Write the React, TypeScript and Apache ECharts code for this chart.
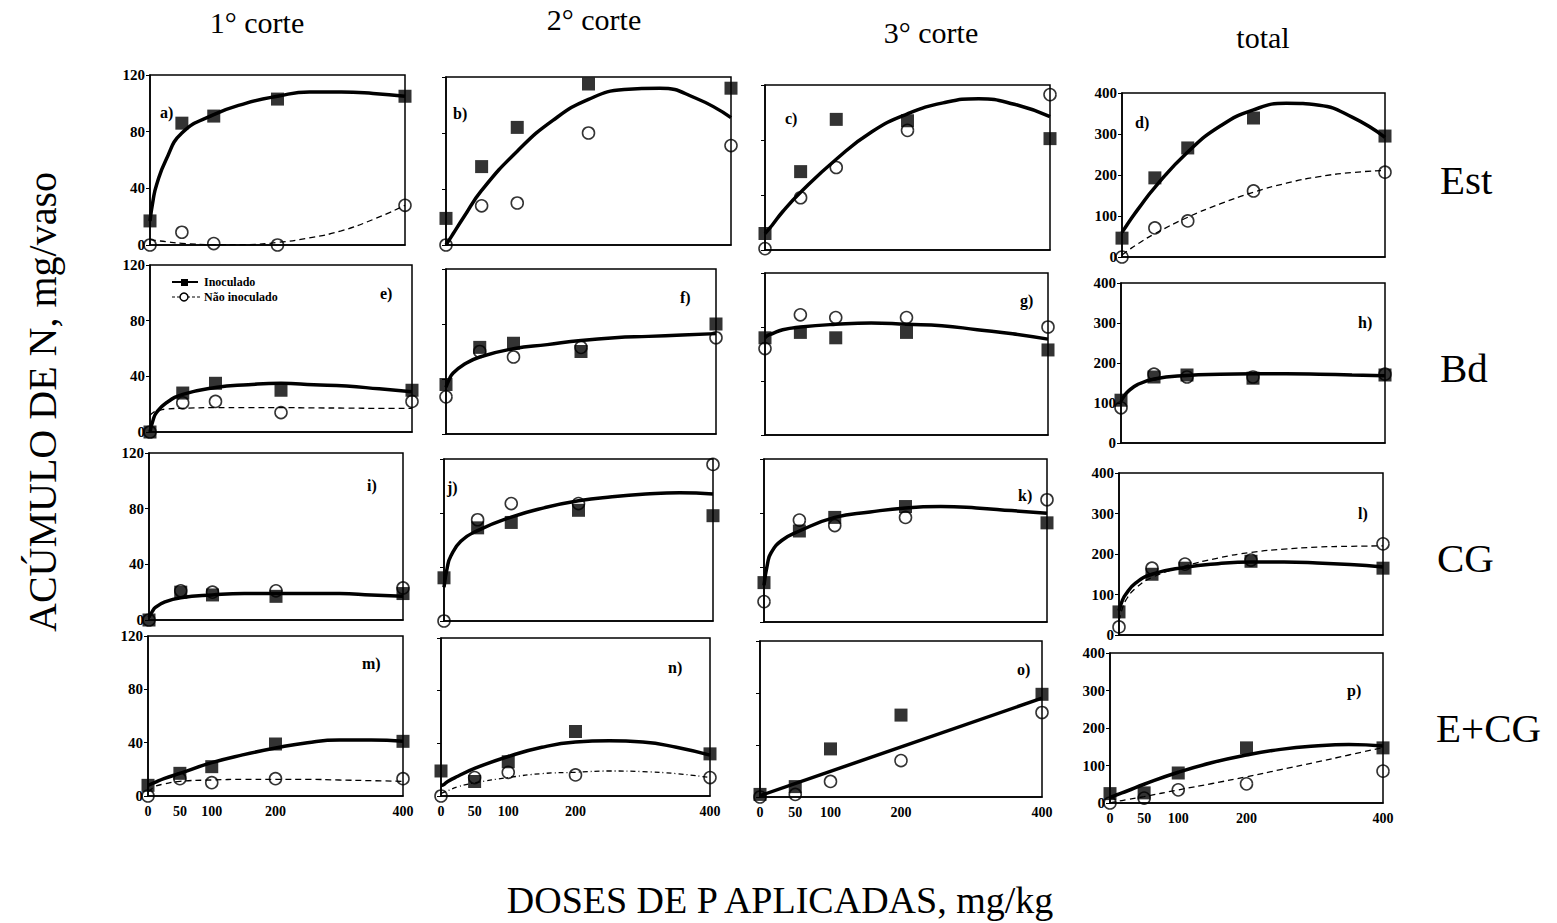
import React, { useEffect, useRef } from "react";
import * as echarts from "echarts";

// ---------- data ----------
const doses = [0, 50, 100, 200, 400];
const curveDoses = [0, 5, 10, 25, 50, 100, 150, 200, 250, 300, 350, 400];
const xTickLabels = ["0", "50", "100", "200", "400"];
const colHeaders = ["1° corte", "2° corte", "3° corte", "total"];
const rowLabels = ["Est", "Bd", "CG", "E+CG"];
const panelLetters = ["a)", "b)", "c)", "d)", "e)", "f)", "g)", "h)", "i)", "j)", "k)", "l)", "m)", "n)", "o)", "p)"];
const legendNames = ["Inoculado", "Não inoculado"];
const yTitle = "ACÚMULO DE N, mg/vaso";
const xTitle = "DOSES DE P APLICADAS, mg/kg";

// Row Est
const inocA = [17, 86, 91, 103, 105];
const naoA = [0, 9, 1, 0, 28];
const fitInocA = [17, 32, 42, 60, 79, 92, 100, 105, 108, 108, 107, 105];
const fitNaoA = [4, 3.5, 3.2, 2.3, 1.2, 0.2, 0.3, 1.8, 5, 10, 18, 28];

const inocB = [19, 56, 84, 115, 112];
const naoB = [0, 28, 30, 80, 71];
const fitInocB = [0, 4, 8, 20, 39, 67, 89, 104, 111, 112, 105, 91];

const inocC = [12, 57, 95, 94, 81];
const naoC = [1, 38, 60, 87, 113];
const fitInocC = [12, 15, 18, 28, 42, 66, 86, 99, 107, 110, 106, 97];

const inocD = [46, 193, 266, 339, 295];
const naoD = [0, 71, 88, 161, 207];
const fitInocD = [60, 72, 84, 118, 170, 256, 320, 359, 375, 370, 341, 292];
const fitNaoD = [5, 11, 17, 33, 57, 97, 130, 158, 180, 196, 206, 211];

// Row Bd
const inocE = [0, 28, 35, 30, 30];
const naoE = [0, 21, 22, 14, 22];
const fitInocE = [0, 9, 14, 21, 27, 32, 34, 35, 34, 33, 31, 29];
const fitNaoE = [12, 14, 15, 16.5, 17, 17.5, 17.5, 17.5, 17.3, 17.2, 17, 17];

const inocF = [36, 63, 66, 60, 80];
const naoF = [27, 60, 56, 63, 70];
const fitInocF = [34, 40, 44, 50, 56, 62, 65, 68, 70, 71, 72, 73];

const inocG = [72, 76, 72, 76, 63];
const naoG = [64, 89, 87, 87, 80];
const fitInocG = [72, 74, 75, 78, 80, 82, 83, 82, 81, 78, 75, 71];

const inocH = [107, 165, 170, 162, 170];
const naoH = [88, 172, 165, 165, 172];
const fitInocH = [105, 118, 128, 146, 160, 169, 172, 173, 173, 172, 170, 168];

// Row CG
const inocI = [0, 20, 18, 17, 19];
const naoI = [0, 21, 20, 21, 23];
const fitInocI = [2, 6, 9, 13, 16, 18, 19, 19, 19, 19, 18, 17];

const inocJ = [32, 69, 73, 82, 78];
const naoJ = [0, 75, 87, 87, 116];
const fitInocJ = [25, 40, 48, 59, 67, 77, 84, 89, 92, 94, 95, 94];

const inocK = [29, 67, 77, 85, 73];
const naoK = [15, 75, 71, 77, 90];
const fitInocK = [27, 43, 51, 60, 67, 77, 81, 84, 85, 84, 82, 80];

const inocL = [57, 150, 165, 182, 165];
const naoL = [20, 165, 175, 185, 225];
const fitInocL = [60, 85, 100, 128, 150, 167, 176, 180, 180, 178, 174, 168];
const fitNaoL = [35, 65, 85, 115, 142, 170, 190, 204, 212, 217, 219, 220];

// Row E+CG
const inocM = [8, 17, 22, 39, 41];
const naoM = [0, 13, 10, 13, 13];
const fitInocM = [8, 9, 10, 13, 17, 25, 31, 36, 40, 42, 42, 41];
const fitNaoM = [3, 5, 7, 9, 11, 12, 12.5, 12.5, 12.5, 12, 11.5, 11];

const inocN = [19, 11, 26, 49, 32];
const naoN = [0, 14, 18, 16, 14];
const fitInocN = [8, 9, 11, 15, 21, 30, 37, 41, 42, 41, 37, 31];
const fitNaoN = [2, 3, 4, 7, 10, 14, 17, 18, 19, 18.5, 17, 14];

const inocO = [2, 8, 37, 63, 79];
const naoO = [0, 2, 12, 28, 65];
const fitDosesO = [0, 400];
const fitInocO = [1, 76];

const inocP = [25, 27, 80, 147, 147];
const naoP = [0, 13, 35, 51, 85];
const fitInocP = [15, 18, 22, 32, 50, 82, 108, 128, 143, 152, 156, 152];
const fitNaoP = [0, 2, 4, 9, 17, 35, 52, 70, 89, 108, 128, 148];

// ---------- layout ----------
type PanelDef = {
  inoc: number[];
  nao: number[];
  fitInoc: number[];
  fitDoses?: number[];
  fitNao?: number[];
  naoDash?: number[];
  box: [number, number, number, number]; // left, top, right, bottom
  total: boolean;
  col: number;
  row: number;
  letterPos: [number, number];
};

const DASH = [6, 4];
const DASHDOT = [5, 3, 1, 3];

const panels: PanelDef[] = [
  { inoc: inocA, nao: naoA, fitInoc: fitInocA, fitNao: fitNaoA, naoDash: DASH, box: [150, 75, 405, 245], total: false, col: 0, row: 0, letterPos: [160, 112] },
  { inoc: inocB, nao: naoB, fitInoc: fitInocB, box: [446, 77, 731, 245], total: false, col: 1, row: 0, letterPos: [453, 113] },
  { inoc: inocC, nao: naoC, fitInoc: fitInocC, box: [765, 85, 1050, 250], total: false, col: 2, row: 0, letterPos: [785, 118] },
  { inoc: inocD, nao: naoD, fitInoc: fitInocD, fitNao: fitNaoD, naoDash: DASH, box: [1122, 93, 1385, 257], total: true, col: 3, row: 0, letterPos: [1135, 122] },

  { inoc: inocE, nao: naoE, fitInoc: fitInocE, fitNao: fitNaoE, naoDash: DASH, box: [150, 265, 412, 432], total: false, col: 0, row: 1, letterPos: [380, 293] },
  { inoc: inocF, nao: naoF, fitInoc: fitInocF, box: [446, 269, 716, 434], total: false, col: 1, row: 1, letterPos: [680, 297] },
  { inoc: inocG, nao: naoG, fitInoc: fitInocG, box: [765, 273, 1048, 435], total: false, col: 2, row: 1, letterPos: [1020, 300] },
  { inoc: inocH, nao: naoH, fitInoc: fitInocH, box: [1121, 283, 1385, 443], total: true, col: 3, row: 1, letterPos: [1358, 322] },

  { inoc: inocI, nao: naoI, fitInoc: fitInocI, box: [149, 453, 403, 620], total: false, col: 0, row: 2, letterPos: [367, 485] },
  { inoc: inocJ, nao: naoJ, fitInoc: fitInocJ, box: [444, 459, 713, 621], total: false, col: 1, row: 2, letterPos: [447, 487] },
  { inoc: inocK, nao: naoK, fitInoc: fitInocK, box: [764, 459, 1047, 622], total: false, col: 2, row: 2, letterPos: [1018, 495] },
  { inoc: inocL, nao: naoL, fitInoc: fitInocL, fitNao: fitNaoL, naoDash: DASH, box: [1119, 473, 1383, 635], total: true, col: 3, row: 2, letterPos: [1358, 513] },

  { inoc: inocM, nao: naoM, fitInoc: fitInocM, fitNao: fitNaoM, naoDash: DASH, box: [148, 636, 403, 796], total: false, col: 0, row: 3, letterPos: [362, 663] },
  { inoc: inocN, nao: naoN, fitInoc: fitInocN, fitNao: fitNaoN, naoDash: DASHDOT, box: [441, 638, 710, 796], total: false, col: 1, row: 3, letterPos: [668, 667] },
  { inoc: inocO, nao: naoO, fitInoc: fitInocO, fitDoses: fitDosesO, box: [760, 641, 1042, 797], total: false, col: 2, row: 3, letterPos: [1017, 669] },
  { inoc: inocP, nao: naoP, fitInoc: fitInocP, fitNao: fitNaoP, naoDash: DASH, box: [1110, 653, 1383, 803], total: true, col: 3, row: 3, letterPos: [1347, 690] },
];

const SERIF = "Liberation Serif";

const colHeaderPos: [number, number][] = [[257, 22], [594, 19], [931, 32], [1263, 37]];
const rowLabelPos: [number, number][] = [[1440, 180], [1440, 368], [1437, 558], [1436, 728]];

function textStyle(text: string, size: number, weight: string, align: string) {
  return {
    text, fontFamily: SERIF, fontSize: size, fontWeight: weight, fill: "#000",
    align, verticalAlign: "middle", textAlign: align, textVerticalAlign: "middle",
  };
}

function buildOption() {
  const grid: any[] = [];
  const xAxis: any[] = [];
  const yAxis: any[] = [];
  const series: any[] = [];
  const graphic: any[] = [];

  panels.forEach((p, i) => {
    const [l, t, r, b] = p.box;
    grid.push({
      left: l, top: t, width: r - l, height: b - t,
      show: true, borderColor: "#000", borderWidth: 1.5, backgroundColor: "transparent",
      containLabel: false,
    });
    const showX = p.row === 3;
    const showY = p.col === 0 || p.col === 3;
    xAxis.push({
      gridIndex: i, type: "value", min: 0, max: 400, interval: 50,
      axisLine: { show: true, lineStyle: { color: "#000", width: 1.5 } },
      axisTick: { show: false },
      splitLine: { show: false },
      axisLabel: {
        show: showX, color: "#000", fontFamily: SERIF, fontWeight: "bold", fontSize: 14, margin: 8,
        formatter: (v: number) => {
          const k = doses.indexOf(v);
          return k >= 0 ? xTickLabels[k] : "";
        },
      },
    });
    yAxis.push({
      gridIndex: i, type: "value", min: 0, max: p.total ? 400 : 120, interval: p.total ? 100 : 40,
      axisLine: { show: true, lineStyle: { color: "#000", width: 1.5 } },
      axisTick: { show: true, inside: false, length: 4, lineStyle: { color: "#000", width: 1 } },
      splitLine: { show: false },
      axisLabel: { show: showY, color: "#000", fontFamily: SERIF, fontWeight: "bold", fontSize: 15, margin: 5 },
    });

    const fd = p.fitDoses || curveDoses;
    series.push({
      type: "line", xAxisIndex: i, yAxisIndex: i,
      data: fd.map((d, k) => [d, p.fitInoc[k]]),
      smooth: 0.5, showSymbol: false, symbol: "none",
      lineStyle: { color: "#000", width: 3.5 }, z: 2, silent: true,
    });
    if (p.fitNao) {
      series.push({
        type: "line", xAxisIndex: i, yAxisIndex: i,
        data: curveDoses.map((d, k) => [d, p.fitNao![k]]),
        smooth: 0.5, showSymbol: false, symbol: "none",
        lineStyle: { color: "#000", width: 1.3, type: p.naoDash || DASH }, z: 2, silent: true,
      });
    }
    series.push({
      type: "scatter", xAxisIndex: i, yAxisIndex: i, clip: false,
      data: doses.map((d, k) => [d, p.nao[k]]),
      symbol: "circle", symbolSize: 12,
      itemStyle: { color: "rgba(0,0,0,0)", borderColor: "#000", borderWidth: 1.6 }, z: 3, silent: true,
    });
    series.push({
      type: "scatter", xAxisIndex: i, yAxisIndex: i, clip: false,
      data: doses.map((d, k) => [d, p.inoc[k]]),
      symbol: "rect", symbolSize: 13,
      itemStyle: { color: "#000" }, z: 4, silent: true,
    });

    graphic.push({
      type: "text", x: p.letterPos[0], y: p.letterPos[1], z: 10,
      style: textStyle(panelLetters[i], 16, "bold", "left"),
    });
  });

  colHeaders.forEach((h, k) => {
    graphic.push({ type: "text", x: colHeaderPos[k][0], y: colHeaderPos[k][1], style: textStyle(h, 30, "normal", "center") });
  });
  rowLabels.forEach((h, k) => {
    graphic.push({ type: "text", x: rowLabelPos[k][0], y: rowLabelPos[k][1], style: textStyle(h, 41, "normal", "left") });
  });
  graphic.push({ type: "text", x: 42, y: 402, rotation: Math.PI / 2, style: textStyle(yTitle, 40, "normal", "center") });
  graphic.push({ type: "text", x: 780, y: 900, style: textStyle(xTitle, 38, "normal", "center") });

  // legend (panel e)
  graphic.push({ type: "line", shape: { x1: 172, y1: 282, x2: 198, y2: 282 }, style: { stroke: "#000", lineWidth: 2 } });
  graphic.push({ type: "rect", shape: { x: 181, y: 279, width: 7, height: 7 }, style: { fill: "#000" } });
  graphic.push({ type: "text", x: 204, y: 282, style: textStyle(legendNames[0], 12, "bold", "left") });
  graphic.push({ type: "line", shape: { x1: 172, y1: 297, x2: 200, y2: 297 }, style: { stroke: "#000", lineWidth: 1, lineDash: [3, 2] } });
  graphic.push({ type: "circle", shape: { cx: 184, cy: 297, r: 4 }, style: { fill: "#fff", stroke: "#000", lineWidth: 1.5 } });
  graphic.push({ type: "text", x: 204, y: 297, style: textStyle(legendNames[1], 12, "bold", "left") });

  return {
    animation: false,
    backgroundColor: "#fff",
    grid, xAxis, yAxis, series, graphic,
  };
}

export default function App() {
  const ref = useRef<HTMLDivElement>(null);
  useEffect(() => {
    document.body.style.margin = "0";
    if (!ref.current) return;
    const chart = echarts.init(ref.current, undefined, { renderer: "svg" });
    chart.setOption(buildOption() as any);
    return () => chart.dispose();
  }, []);
  return <div ref={ref} style={{ width: 1557, height: 923 }} />;
}
